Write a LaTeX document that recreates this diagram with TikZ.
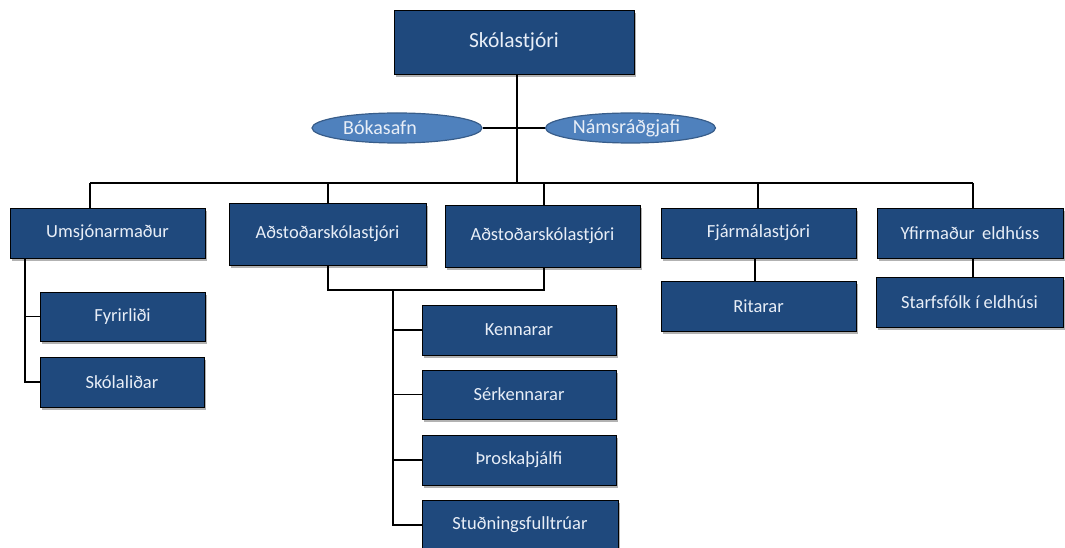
\documentclass[tikz,border=0pt]{standalone}
\usepackage{fontspec}
\setmainfont{Carlito}
\usetikzlibrary{shapes.geometric,shadows}
\definecolor{boxblue}{HTML}{1F497D}
\definecolor{ellblue}{HTML}{4F81BD}
\definecolor{ellborder}{HTML}{385D8A}
\definecolor{txt}{HTML}{E8EEF7}
\begin{document}
\begin{tikzpicture}[x=1pt,y=-1pt,
  box/.style 2 args={draw=black, line width=0.8pt, fill=boxblue, text=txt,
    font=\fontsize{18.5}{22}\selectfont, inner sep=0pt,
    minimum width=#1pt, minimum height=#2pt,
    drop shadow={shadow xshift=2pt, shadow yshift=-3pt, opacity=0.3, fill=black}},
  oval/.style={ellipse, draw=ellborder, line width=1.2pt, fill=ellblue, text=txt,
    font=\fontsize{20}{24}\selectfont, inner sep=0pt,
    minimum width=170pt, minimum height=30pt},
  conn/.style={draw=black, line width=1.8pt}
]
\useasboundingbox (0,0) rectangle (1065,548);

% nodes
\node[box={240}{64}, font=\fontsize{21.5}{26}\selectfont] (boss) at (514,42) {Skólastjóri};
\node[oval] (bok) at (397,128) {Bókasafn\hspace*{34pt}};
\node[oval] (nam) at (630.5,128) {Námsráðgjafi\hspace*{8pt}};

\node[box={195}{50}] (um) at (107.5,233) {Umsjónarmaður};
\node[box={197}{62}] (a1) at (327.5,234) {Aðstoðarskólastjóri};
\node[box={195}{62}] (a2) at (542.5,236) {Aðstoðarskólastjóri};
\node[box={195}{50}] (fj) at (758.5,233) {Fjármálastjóri};
\node[box={186}{50}] (yf) at (970,233) {Yfirmaður\, eldhúss};

\node[box={165}{49}] (fy) at (122.5,316.5) {Fyrirliði};
\node[box={164}{50}] (sk) at (122,382) {Skólaliðar};

\node[box={194}{50}] (ke) at (519,330) {Kennarar};
\node[box={194}{49}] (se) at (519,394.5) {Sérkennarar};
\node[box={194}{50}] (th) at (519,460) {Þroskaþjálfi};
\node[box={196}{50}] (su) at (520,525) {Stuðningsfulltrúar};

\node[box={195}{50}] (rit) at (758.5,306) {Ritarar};
\node[box={187}{50}] (st) at (969.5,302) {Starfsfólk í eldhúsi};

% junction coordinates
\coordinate (bosstop) at (517,74);
\coordinate (busmid) at (517,183);
\coordinate (busL) at (90,183);
\coordinate (busA1) at (328,183);
\coordinate (busA2) at (544,183);
\coordinate (busF) at (758,183);
\coordinate (busR) at (973,183);
\coordinate (umtrunk) at (25,258);
\coordinate (fyj) at (25,316.5);
\coordinate (skj) at (25,382);
\coordinate (a1b) at (328,290);
\coordinate (a2b) at (544,290);
\coordinate (tr) at (393,290);
\coordinate (kej) at (393,330);
\coordinate (sej) at (393,394.5);
\coordinate (thj) at (393,460);
\coordinate (suj) at (393,525);
\coordinate (ritx) at (755,0);

% connectors
\draw[conn] (bosstop) -- (busmid);
\draw[conn] (bok.east) -- (nam.west);
\draw[conn] (busL) -- (busR);
\draw[conn] (busL) -- (busL |- um.north);
\draw[conn] (busA1) -- (busA1 |- a1.north);
\draw[conn] (busA2) -- (busA2 |- a2.north);
\draw[conn] (busF) -- (busF |- fj.north);
\draw[conn] (busR) -- (busR |- yf.north);

\draw[conn] (umtrunk) -- (skj) -- (sk.west);
\draw[conn] (fyj) -- (fy.west);

\draw[conn] (a1b |- a1.south) -- (a1b) -- (a2b) -- (a2b |- a2.south);
\draw[conn] (tr) -- (suj) -- (su.west);
\draw[conn] (kej) -- (ke.west);
\draw[conn] (sej) -- (se.west);
\draw[conn] (thj) -- (th.west);

\draw[conn] (ritx |- fj.south) -- (ritx |- rit.north);
\draw[conn] (busR |- yf.south) -- (busR |- st.north);
\end{tikzpicture}
\end{document}
